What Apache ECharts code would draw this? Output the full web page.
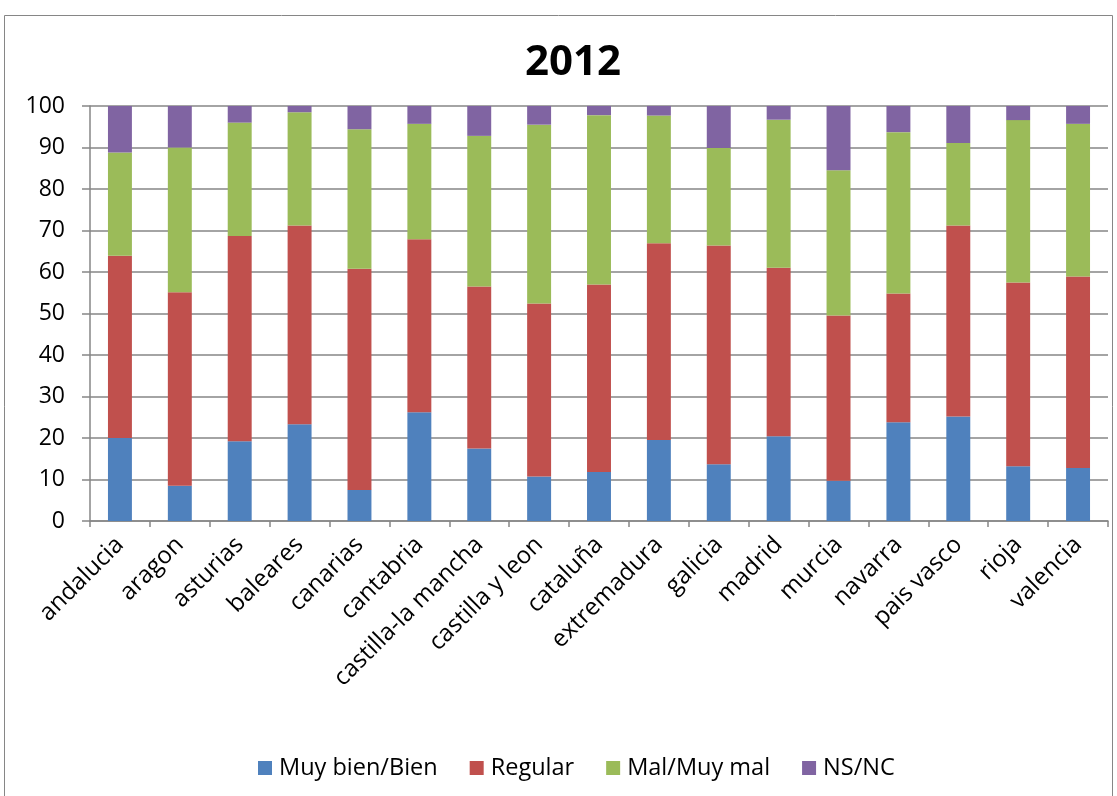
<!DOCTYPE html>
<html>
<head>
<meta charset="utf-8">
<script src="https://cdn.jsdelivr.net/npm/echarts@6/dist/echarts.min.js"></script>
<style>
  html, body { margin: 0; padding: 0; background: #fff; }
  #chart { width: 1117px; height: 796px; }
</style>
</head>
<body>
<div id="chart"></div>
<script>
// Regions
const categories = ['andalucia', 'aragon', 'asturias', 'baleares', 'canarias', 'cantabria',
  'castilla-la mancha', 'castilla y leon', 'cataluña', 'extremadura', 'galicia', 'madrid',
  'murcia', 'navarra', 'pais vasco', 'rioja', 'valencia'];

// Percentages per answer group
const muyBienBien = [20.0, 8.5, 19.2, 23.3, 7.5, 26.2, 17.5, 10.7, 11.8, 19.5, 13.7, 20.4, 9.7, 23.8, 25.2, 13.2, 12.8];
const regular     = [43.9, 46.6, 49.5, 47.9, 53.3, 41.7, 39.0, 41.7, 45.2, 47.4, 52.7, 40.6, 39.8, 31.0, 46.0, 44.3, 46.1];
const malMuyMal   = [24.9, 34.9, 27.3, 27.3, 33.6, 27.8, 36.3, 43.1, 40.8, 30.8, 23.5, 35.7, 35.0, 38.9, 19.9, 39.1, 36.8];
const nsnc        = [11.2, 10.0, 4.0, 1.5, 5.6, 4.3, 7.2, 4.5, 2.2, 2.3, 10.1, 3.3, 15.5, 6.3, 8.9, 3.4, 4.3];

const seriesNames = ['Muy bien/Bien', 'Regular', 'Mal/Muy mal', 'NS/NC'];
const seriesData = [muyBienBien, regular, malMuyMal, nsnc];
const colors = ['#4f81bd', '#c0504d', '#9bbb59', '#8064a2'];

const FONT = '"Open Sans", "DejaVu Sans", sans-serif';

const chart = echarts.init(document.getElementById('chart'), null, { renderer: 'canvas' });
chart.setOption({
  animation: false,
  backgroundColor: '#ffffff',
  color: colors,
  title: {
    text: '2012',
    left: 520,
    top: 37,
    textStyle: { fontFamily: FONT, fontSize: 42, fontWeight: 'bold', color: '#000' }
  },
  graphic: [{
    type: 'rect',
    shape: { x: 4.5, y: 15.5, width: 1108, height: 800 },
    style: { fill: 'none', stroke: '#868686', lineWidth: 1 },
    silent: true
  }],
  legend: {
    top: 751,
    left: 253,
    itemWidth: 14,
    itemHeight: 14,
    itemGap: 32,
    icon: 'rect',
    textStyle: { fontFamily: FONT, fontSize: 23.5, color: '#000', padding: [0, 0, 0, 2] },
    data: seriesNames
  },
  grid: { left: 90, right: 9, top: 106, bottom: 275, containLabel: false },
  xAxis: {
    type: 'category',
    data: categories,
    boundaryGap: true,
    axisLine: { lineStyle: { color: '#868686', width: 1.5 } },
    axisTick: { show: true, inside: false, length: 6, lineStyle: { color: '#868686', width: 1.5 } },
    axisLabel: {
      rotate: 45,
      interval: 0,
      margin: 20,
      fontFamily: FONT,
      fontSize: 24,
      color: '#000'
    }
  },
  yAxis: {
    type: 'value',
    min: 0,
    max: 100,
    interval: 10,
    axisLine: { show: true, lineStyle: { color: '#868686', width: 1.5 } },
    axisTick: { show: true, length: 8, lineStyle: { color: '#868686', width: 1.5 } },
    splitLine: { show: true, lineStyle: { color: '#868686', width: 1.5 } },
    axisLabel: { fontFamily: FONT, fontSize: 23, color: '#000', margin: 25 }
  },
  series: seriesNames.map((name, i) => ({
    name: name,
    type: 'bar',
    stack: 'total',
    barWidth: '40%',
    data: seriesData[i],
    itemStyle: { color: colors[i] }
  }))
});
</script>
</body>
</html>
